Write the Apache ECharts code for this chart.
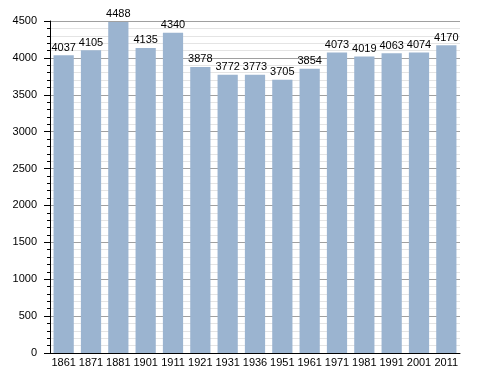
<!DOCTYPE html>
<html><head><meta charset="utf-8">
<script src="https://cdn.jsdelivr.net/npm/echarts@6/dist/echarts.min.js"></script>
<style>html,body{margin:0;padding:0;background:#fff}#c{width:488px;height:373px}</style>
</head><body><div id="c"></div>
<script>
const categories = ['1861','1871','1881','1901','1911','1921','1931','1936','1951','1961','1971','1981','1991','2001','2011'];
const population = [4037,4105,4488,4135,4340,3878,3772,3773,3705,3854,4073,4019,4063,4074,4170];
const yTicks = [0,500,1000,1500,2000,2500,3000,3500,4000,4500];

const chart = echarts.init(document.getElementById('c'), null, {renderer:'canvas'});
const font = 'Liberation Sans, Arial, sans-serif';
chart.setOption({
  animation:false,
  backgroundColor:'#fff',
  grid:{left:50, right:28, top:21, bottom:20, containLabel:false},
  xAxis:{
    type:'category', data:categories,
    axisLine:{lineStyle:{color:'#000', width:1}},
    axisTick:{show:false},
    axisLabel:{color:'#000', fontFamily:font, fontSize:11, margin:4, interval:0}
  },
  yAxis:{
    type:'value', min:yTicks[0], max:yTicks[yTicks.length-1], interval:500,
    axisLine:{show:true, lineStyle:{color:'#000', width:1}},
    axisTick:{show:true, length:6, lineStyle:{color:'#000'}},
    minorTick:{show:true, splitNumber:5, length:3, lineStyle:{color:'#000'}},
    splitLine:{show:true, lineStyle:{color:'#a0a0a0', width:1}},
    minorSplitLine:{show:true, lineStyle:{color:'#e4e4e4', width:1}},
    axisLabel:{color:'#000', fontFamily:font, fontSize:11, margin:13, formatter:function(v){return String(v);}}
  },
  series:[{
    type:'bar', data:population, barWidth:'74%',
    itemStyle:{color:'#9bb4d0'},
    label:{show:true, position:'top', distance:2, color:'#000', fontFamily:font, fontSize:11}
  }]
});
</script></body></html>
